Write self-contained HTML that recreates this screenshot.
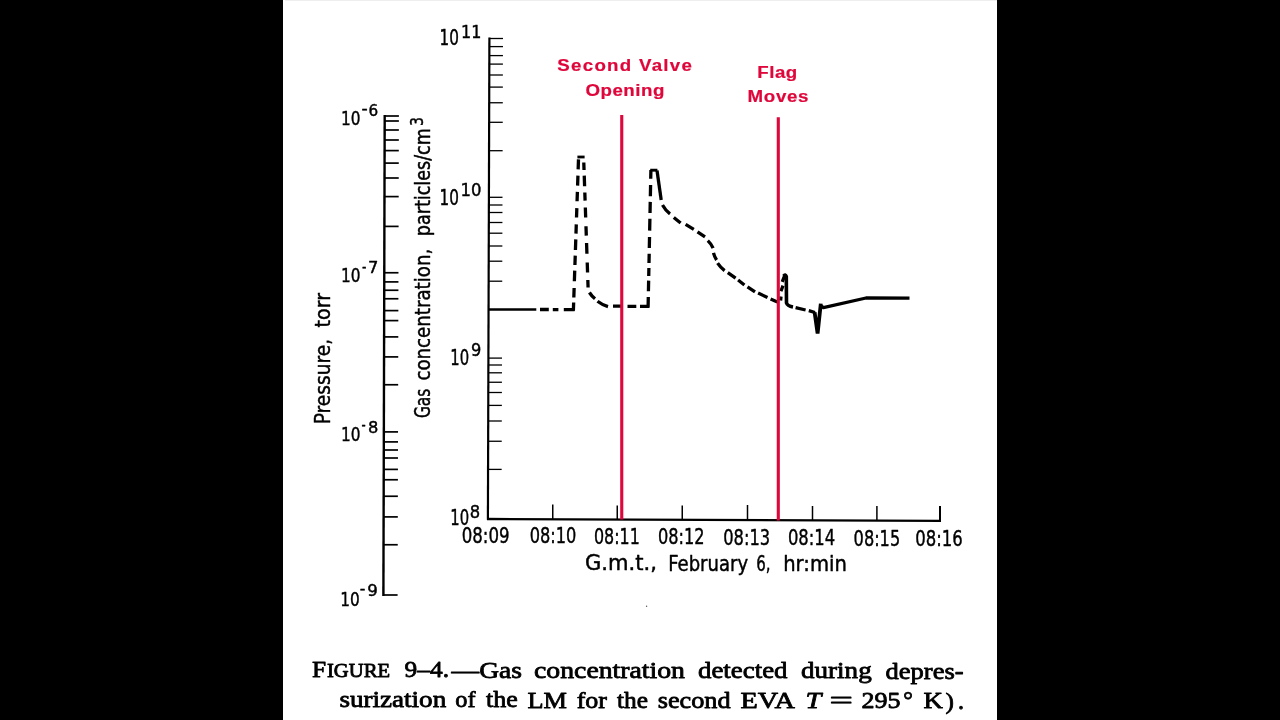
<!DOCTYPE html>
<html lang="en"><head><meta charset="utf-8"><title>Figure 9-4</title>
<style>
html,body{margin:0;padding:0;background:#000;width:1280px;height:720px;overflow:hidden}
#page{position:absolute;left:283px;top:0;width:714px;height:720px;background:#fff}
#strip{position:absolute;left:2px;top:0;right:0;height:1px;background:#efedef}
svg{position:absolute;left:0;top:0;filter:blur(0.35px)}
text{white-space:pre}
</style></head><body>
<div id="page"><div id="strip"></div></div>
<svg width="1280" height="720" viewBox="0 0 1280 720">
<line x1="384.70" y1="115.00" x2="383.40" y2="596.00" stroke="#000" stroke-width="2.4" stroke-linecap="butt"/>
<line x1="384.70" y1="116.00" x2="398.90" y2="116.00" stroke="#000" stroke-width="1.7" stroke-linecap="butt"/>
<line x1="384.68" y1="121.00" x2="398.88" y2="121.00" stroke="#000" stroke-width="1.7" stroke-linecap="butt"/>
<line x1="384.66" y1="130.00" x2="398.86" y2="130.00" stroke="#000" stroke-width="1.7" stroke-linecap="butt"/>
<line x1="384.63" y1="140.00" x2="398.83" y2="140.00" stroke="#000" stroke-width="1.7" stroke-linecap="butt"/>
<line x1="384.60" y1="150.60" x2="398.80" y2="150.60" stroke="#000" stroke-width="1.7" stroke-linecap="butt"/>
<line x1="384.57" y1="163.10" x2="398.77" y2="163.10" stroke="#000" stroke-width="1.7" stroke-linecap="butt"/>
<line x1="384.53" y1="178.00" x2="398.73" y2="178.00" stroke="#000" stroke-width="1.7" stroke-linecap="butt"/>
<line x1="384.48" y1="196.60" x2="398.68" y2="196.60" stroke="#000" stroke-width="1.7" stroke-linecap="butt"/>
<line x1="384.40" y1="226.40" x2="398.60" y2="226.40" stroke="#000" stroke-width="1.7" stroke-linecap="butt"/>
<line x1="384.27" y1="272.75" x2="398.47" y2="272.75" stroke="#000" stroke-width="1.7" stroke-linecap="butt"/>
<line x1="384.25" y1="281.90" x2="398.45" y2="281.90" stroke="#000" stroke-width="1.7" stroke-linecap="butt"/>
<line x1="384.23" y1="290.25" x2="398.43" y2="290.25" stroke="#000" stroke-width="1.7" stroke-linecap="butt"/>
<line x1="384.20" y1="298.75" x2="398.40" y2="298.75" stroke="#000" stroke-width="1.7" stroke-linecap="butt"/>
<line x1="384.17" y1="310.60" x2="398.37" y2="310.60" stroke="#000" stroke-width="1.7" stroke-linecap="butt"/>
<line x1="384.14" y1="320.60" x2="398.34" y2="320.60" stroke="#000" stroke-width="1.7" stroke-linecap="butt"/>
<line x1="384.10" y1="336.90" x2="398.30" y2="336.90" stroke="#000" stroke-width="1.7" stroke-linecap="butt"/>
<line x1="384.05" y1="356.90" x2="398.25" y2="356.90" stroke="#000" stroke-width="1.7" stroke-linecap="butt"/>
<line x1="383.97" y1="384.75" x2="398.17" y2="384.75" stroke="#000" stroke-width="1.7" stroke-linecap="butt"/>
<line x1="383.84" y1="431.90" x2="398.04" y2="431.90" stroke="#000" stroke-width="1.7" stroke-linecap="butt"/>
<line x1="383.82" y1="441.90" x2="398.02" y2="441.90" stroke="#000" stroke-width="1.7" stroke-linecap="butt"/>
<line x1="383.79" y1="450.00" x2="397.99" y2="450.00" stroke="#000" stroke-width="1.7" stroke-linecap="butt"/>
<line x1="383.77" y1="458.00" x2="397.97" y2="458.00" stroke="#000" stroke-width="1.7" stroke-linecap="butt"/>
<line x1="383.74" y1="469.40" x2="397.94" y2="469.40" stroke="#000" stroke-width="1.7" stroke-linecap="butt"/>
<line x1="383.71" y1="479.75" x2="397.91" y2="479.75" stroke="#000" stroke-width="1.7" stroke-linecap="butt"/>
<line x1="383.67" y1="496.25" x2="397.87" y2="496.25" stroke="#000" stroke-width="1.7" stroke-linecap="butt"/>
<line x1="383.61" y1="516.90" x2="397.81" y2="516.90" stroke="#000" stroke-width="1.7" stroke-linecap="butt"/>
<line x1="383.54" y1="544.75" x2="397.74" y2="544.75" stroke="#000" stroke-width="1.7" stroke-linecap="butt"/>
<line x1="383.40" y1="595.00" x2="397.60" y2="595.00" stroke="#000" stroke-width="1.7" stroke-linecap="butt"/>
<line x1="489.40" y1="37.50" x2="487.90" y2="519.80" stroke="#000" stroke-width="2.2" stroke-linecap="butt"/>
<line x1="489.40" y1="38.50" x2="503.00" y2="38.50" stroke="#000" stroke-width="1.3" stroke-linecap="butt"/>
<line x1="489.37" y1="46.60" x2="502.97" y2="46.60" stroke="#000" stroke-width="1.3" stroke-linecap="butt"/>
<line x1="489.34" y1="55.60" x2="502.94" y2="55.60" stroke="#000" stroke-width="1.3" stroke-linecap="butt"/>
<line x1="489.32" y1="64.10" x2="502.92" y2="64.10" stroke="#000" stroke-width="1.3" stroke-linecap="butt"/>
<line x1="489.28" y1="75.00" x2="502.88" y2="75.00" stroke="#000" stroke-width="1.3" stroke-linecap="butt"/>
<line x1="489.25" y1="87.10" x2="502.85" y2="87.10" stroke="#000" stroke-width="1.3" stroke-linecap="butt"/>
<line x1="489.20" y1="102.75" x2="502.80" y2="102.75" stroke="#000" stroke-width="1.3" stroke-linecap="butt"/>
<line x1="489.14" y1="122.30" x2="502.74" y2="122.30" stroke="#000" stroke-width="1.3" stroke-linecap="butt"/>
<line x1="489.05" y1="150.70" x2="502.65" y2="150.70" stroke="#000" stroke-width="1.3" stroke-linecap="butt"/>
<line x1="488.90" y1="197.30" x2="502.50" y2="197.30" stroke="#000" stroke-width="1.3" stroke-linecap="butt"/>
<line x1="488.88" y1="205.00" x2="502.48" y2="205.00" stroke="#000" stroke-width="1.3" stroke-linecap="butt"/>
<line x1="488.86" y1="212.50" x2="502.46" y2="212.50" stroke="#000" stroke-width="1.3" stroke-linecap="butt"/>
<line x1="488.82" y1="222.50" x2="502.42" y2="222.50" stroke="#000" stroke-width="1.3" stroke-linecap="butt"/>
<line x1="488.79" y1="233.20" x2="502.39" y2="233.20" stroke="#000" stroke-width="1.3" stroke-linecap="butt"/>
<line x1="488.75" y1="246.00" x2="502.35" y2="246.00" stroke="#000" stroke-width="1.3" stroke-linecap="butt"/>
<line x1="488.70" y1="261.20" x2="502.30" y2="261.20" stroke="#000" stroke-width="1.3" stroke-linecap="butt"/>
<line x1="488.64" y1="281.20" x2="502.24" y2="281.20" stroke="#000" stroke-width="1.3" stroke-linecap="butt"/>
<line x1="488.40" y1="358.10" x2="502.00" y2="358.10" stroke="#000" stroke-width="1.3" stroke-linecap="butt"/>
<line x1="488.38" y1="365.00" x2="501.98" y2="365.00" stroke="#000" stroke-width="1.3" stroke-linecap="butt"/>
<line x1="488.36" y1="372.80" x2="501.96" y2="372.80" stroke="#000" stroke-width="1.3" stroke-linecap="butt"/>
<line x1="488.33" y1="382.25" x2="501.93" y2="382.25" stroke="#000" stroke-width="1.3" stroke-linecap="butt"/>
<line x1="488.30" y1="392.50" x2="501.90" y2="392.50" stroke="#000" stroke-width="1.3" stroke-linecap="butt"/>
<line x1="488.26" y1="405.40" x2="501.86" y2="405.40" stroke="#000" stroke-width="1.3" stroke-linecap="butt"/>
<line x1="488.21" y1="421.00" x2="501.81" y2="421.00" stroke="#000" stroke-width="1.3" stroke-linecap="butt"/>
<line x1="488.14" y1="441.25" x2="501.74" y2="441.25" stroke="#000" stroke-width="1.3" stroke-linecap="butt"/>
<line x1="488.06" y1="469.40" x2="501.66" y2="469.40" stroke="#000" stroke-width="1.3" stroke-linecap="butt"/>
<line x1="487.00" y1="519.00" x2="941.00" y2="520.90" stroke="#000" stroke-width="2.4" stroke-linecap="butt"/>
<line x1="552.75" y1="504.40" x2="552.75" y2="520.00" stroke="#000" stroke-width="1.5" stroke-linecap="butt"/>
<line x1="617.25" y1="505.60" x2="617.25" y2="520.00" stroke="#000" stroke-width="1.5" stroke-linecap="butt"/>
<line x1="682.25" y1="505.60" x2="682.25" y2="520.00" stroke="#000" stroke-width="1.5" stroke-linecap="butt"/>
<line x1="747.50" y1="505.00" x2="747.50" y2="520.00" stroke="#000" stroke-width="1.5" stroke-linecap="butt"/>
<line x1="812.50" y1="506.00" x2="812.50" y2="520.00" stroke="#000" stroke-width="1.5" stroke-linecap="butt"/>
<line x1="876.90" y1="506.00" x2="876.90" y2="520.00" stroke="#000" stroke-width="1.5" stroke-linecap="butt"/>
<line x1="940.00" y1="506.00" x2="940.00" y2="521.60" stroke="#000" stroke-width="2.0" stroke-linecap="butt"/>
<text x="340.90" y="124.60" font-family='"DejaVu Sans", "Liberation Sans", sans-serif' font-size="19.8" font-weight="normal" fill="#000" stroke="#000" stroke-width="0.45" stroke-linejoin="round" text-anchor="start" textLength="19.50" lengthAdjust="spacingAndGlyphs"  style="">10</text>
<text x="361.50" y="113.50" font-family='"DejaVu Sans", "Liberation Sans", sans-serif' font-size="16.6" font-weight="normal" fill="#000" stroke="#000" stroke-width="0.45" stroke-linejoin="round" text-anchor="start" textLength="6.20" lengthAdjust="spacingAndGlyphs"  style="">-</text>
<text x="368.60" y="115.80" font-family='"DejaVu Sans", "Liberation Sans", sans-serif' font-size="16.6" font-weight="normal" fill="#000" stroke="#000" stroke-width="0.45" stroke-linejoin="round" text-anchor="start" textLength="9.70" lengthAdjust="spacingAndGlyphs"  style="">6</text>
<text x="340.90" y="282.30" font-family='"DejaVu Sans", "Liberation Sans", sans-serif' font-size="19.8" font-weight="normal" fill="#000" stroke="#000" stroke-width="0.45" stroke-linejoin="round" text-anchor="start" textLength="19.50" lengthAdjust="spacingAndGlyphs"  style="">10</text>
<text x="361.90" y="271.80" font-family='"DejaVu Sans", "Liberation Sans", sans-serif' font-size="16.6" font-weight="normal" fill="#000" stroke="#000" stroke-width="0.45" stroke-linejoin="round" text-anchor="start" textLength="4.40" lengthAdjust="spacingAndGlyphs"  style="">-</text>
<text x="367.95" y="272.60" font-family='"DejaVu Sans", "Liberation Sans", sans-serif' font-size="16.6" font-weight="normal" fill="#000" stroke="#000" stroke-width="0.45" stroke-linejoin="round" text-anchor="start" textLength="10.35" lengthAdjust="spacingAndGlyphs"  style="">7</text>
<text x="340.90" y="441.30" font-family='"DejaVu Sans", "Liberation Sans", sans-serif' font-size="19.8" font-weight="normal" fill="#000" stroke="#000" stroke-width="0.45" stroke-linejoin="round" text-anchor="start" textLength="19.50" lengthAdjust="spacingAndGlyphs"  style="">10</text>
<text x="361.60" y="430.30" font-family='"DejaVu Sans", "Liberation Sans", sans-serif' font-size="16.6" font-weight="normal" fill="#000" stroke="#000" stroke-width="0.45" stroke-linejoin="round" text-anchor="start" textLength="4.20" lengthAdjust="spacingAndGlyphs"  style="">-</text>
<text x="367.95" y="433.00" font-family='"DejaVu Sans", "Liberation Sans", sans-serif' font-size="16.6" font-weight="normal" fill="#000" stroke="#000" stroke-width="0.45" stroke-linejoin="round" text-anchor="start" textLength="10.35" lengthAdjust="spacingAndGlyphs"  style="">8</text>
<text x="340.25" y="606.00" font-family='"DejaVu Sans", "Liberation Sans", sans-serif' font-size="19.8" font-weight="normal" fill="#000" stroke="#000" stroke-width="0.45" stroke-linejoin="round" text-anchor="start" textLength="19.50" lengthAdjust="spacingAndGlyphs"  style="">10</text>
<text x="359.80" y="593.70" font-family='"DejaVu Sans", "Liberation Sans", sans-serif' font-size="16.6" font-weight="normal" fill="#000" stroke="#000" stroke-width="0.45" stroke-linejoin="round" text-anchor="start" textLength="5.60" lengthAdjust="spacingAndGlyphs"  style="">-</text>
<text x="367.20" y="596.00" font-family='"DejaVu Sans", "Liberation Sans", sans-serif' font-size="16.6" font-weight="normal" fill="#000" stroke="#000" stroke-width="0.45" stroke-linejoin="round" text-anchor="start" textLength="10.60" lengthAdjust="spacingAndGlyphs"  style="">9</text>
<text x="439.60" y="45.10" font-family='"DejaVu Sans", "Liberation Sans", sans-serif' font-size="21.5" font-weight="normal" fill="#000" stroke="#000" stroke-width="0.45" stroke-linejoin="round" text-anchor="start" textLength="19.40" lengthAdjust="spacingAndGlyphs"  style="">10</text>
<text x="461.10" y="38.15" font-family='"DejaVu Sans", "Liberation Sans", sans-serif' font-size="17.5" font-weight="normal" fill="#000" stroke="#000" stroke-width="0.45" stroke-linejoin="round" text-anchor="start" textLength="20.30" lengthAdjust="spacingAndGlyphs"  style="">11</text>
<text x="439.60" y="205.10" font-family='"DejaVu Sans", "Liberation Sans", sans-serif' font-size="21.5" font-weight="normal" fill="#000" stroke="#000" stroke-width="0.45" stroke-linejoin="round" text-anchor="start" textLength="19.40" lengthAdjust="spacingAndGlyphs"  style="">10</text>
<text x="460.45" y="196.30" font-family='"DejaVu Sans", "Liberation Sans", sans-serif' font-size="17.5" font-weight="normal" fill="#000" stroke="#000" stroke-width="0.45" stroke-linejoin="round" text-anchor="start" textLength="20.95" lengthAdjust="spacingAndGlyphs"  style="">10</text>
<text x="450.25" y="365.10" font-family='"DejaVu Sans", "Liberation Sans", sans-serif' font-size="21.5" font-weight="normal" fill="#000" stroke="#000" stroke-width="0.45" stroke-linejoin="round" text-anchor="start" textLength="18.85" lengthAdjust="spacingAndGlyphs"  style="">10</text>
<text x="471.10" y="356.40" font-family='"DejaVu Sans", "Liberation Sans", sans-serif' font-size="17.5" font-weight="normal" fill="#000" stroke="#000" stroke-width="0.45" stroke-linejoin="round" text-anchor="start" textLength="10.30" lengthAdjust="spacingAndGlyphs"  style="">9</text>
<text x="450.25" y="525.10" font-family='"DejaVu Sans", "Liberation Sans", sans-serif' font-size="21.5" font-weight="normal" fill="#000" stroke="#000" stroke-width="0.45" stroke-linejoin="round" text-anchor="start" textLength="18.85" lengthAdjust="spacingAndGlyphs"  style="">10</text>
<text x="469.80" y="517.50" font-family='"DejaVu Sans", "Liberation Sans", sans-serif' font-size="17.5" font-weight="normal" fill="#000" stroke="#000" stroke-width="0.45" stroke-linejoin="round" text-anchor="start" textLength="10.40" lengthAdjust="spacingAndGlyphs"  style="">8</text>
<text x="461.70" y="543.30" font-family='"DejaVu Sans", "Liberation Sans", sans-serif' font-size="22.0" font-weight="normal" fill="#000" stroke="#000" stroke-width="0.45" stroke-linejoin="round" text-anchor="start" textLength="47.85" lengthAdjust="spacingAndGlyphs"  style="">08:09</text>
<text x="529.80" y="543.30" font-family='"DejaVu Sans", "Liberation Sans", sans-serif' font-size="22.0" font-weight="normal" fill="#000" stroke="#000" stroke-width="0.45" stroke-linejoin="round" text-anchor="start" textLength="46.60" lengthAdjust="spacingAndGlyphs"  style="">08:10</text>
<text x="593.95" y="543.50" font-family='"DejaVu Sans", "Liberation Sans", sans-serif' font-size="22.0" font-weight="normal" fill="#000" stroke="#000" stroke-width="0.45" stroke-linejoin="round" text-anchor="start" textLength="45.85" lengthAdjust="spacingAndGlyphs"  style="">08:11</text>
<text x="657.95" y="543.90" font-family='"DejaVu Sans", "Liberation Sans", sans-serif' font-size="22.0" font-weight="normal" fill="#000" stroke="#000" stroke-width="0.45" stroke-linejoin="round" text-anchor="start" textLength="46.60" lengthAdjust="spacingAndGlyphs"  style="">08:12</text>
<text x="723.20" y="544.50" font-family='"DejaVu Sans", "Liberation Sans", sans-serif' font-size="22.0" font-weight="normal" fill="#000" stroke="#000" stroke-width="0.45" stroke-linejoin="round" text-anchor="start" textLength="47.00" lengthAdjust="spacingAndGlyphs"  style="">08:13</text>
<text x="787.95" y="544.90" font-family='"DejaVu Sans", "Liberation Sans", sans-serif' font-size="22.0" font-weight="normal" fill="#000" stroke="#000" stroke-width="0.45" stroke-linejoin="round" text-anchor="start" textLength="47.25" lengthAdjust="spacingAndGlyphs"  style="">08:14</text>
<text x="853.60" y="545.50" font-family='"DejaVu Sans", "Liberation Sans", sans-serif' font-size="22.0" font-weight="normal" fill="#000" stroke="#000" stroke-width="0.45" stroke-linejoin="round" text-anchor="start" textLength="46.60" lengthAdjust="spacingAndGlyphs"  style="">08:15</text>
<text x="915.20" y="545.70" font-family='"DejaVu Sans", "Liberation Sans", sans-serif' font-size="22.0" font-weight="normal" fill="#000" stroke="#000" stroke-width="0.45" stroke-linejoin="round" text-anchor="start" textLength="47.50" lengthAdjust="spacingAndGlyphs"  style="">08:16</text>
<text x="585.00" y="570.30" font-family='"DejaVu Sans", "Liberation Sans", sans-serif' font-size="20.5" font-weight="normal" fill="#000" stroke="#000" stroke-width="0.45" stroke-linejoin="round" text-anchor="start" textLength="71.85" lengthAdjust="spacingAndGlyphs"  style="">G.m.t.,</text>
<text x="668.15" y="570.60" font-family='"DejaVu Sans", "Liberation Sans", sans-serif' font-size="20.5" font-weight="normal" fill="#000" stroke="#000" stroke-width="0.45" stroke-linejoin="round" text-anchor="start" textLength="79.95" lengthAdjust="spacingAndGlyphs"  style="">February</text>
<text x="756.30" y="570.90" font-family='"DejaVu Sans", "Liberation Sans", sans-serif' font-size="20.5" font-weight="normal" fill="#000" stroke="#000" stroke-width="0.45" stroke-linejoin="round" text-anchor="start" textLength="14.30" lengthAdjust="spacingAndGlyphs"  style="">6,</text>
<text x="783.15" y="571.20" font-family='"DejaVu Sans", "Liberation Sans", sans-serif' font-size="20.5" font-weight="normal" fill="#000" stroke="#000" stroke-width="0.45" stroke-linejoin="round" text-anchor="start" textLength="63.70" lengthAdjust="spacingAndGlyphs"  style="">hr:min</text>
<text x="0" y="0" transform="translate(330.20 424.35) rotate(-90)" font-family='"DejaVu Sans", "Liberation Sans", sans-serif' font-size="20.5" font-weight="normal" fill="#000" stroke="#000" stroke-width="0.45" stroke-linejoin="round" text-anchor="start" textLength="85.55" lengthAdjust="spacingAndGlyphs"  style="">Pressure,</text>
<text x="0" y="0" transform="translate(330.20 327.50) rotate(-90)" font-family='"DejaVu Sans", "Liberation Sans", sans-serif' font-size="20.5" font-weight="normal" fill="#000" stroke="#000" stroke-width="0.45" stroke-linejoin="round" text-anchor="start" textLength="34.60" lengthAdjust="spacingAndGlyphs"  style="">torr</text>
<text x="0" y="0" transform="translate(429.60 418.10) rotate(-90)" font-family='"DejaVu Sans", "Liberation Sans", sans-serif' font-size="20.5" font-weight="normal" fill="#000" stroke="#000" stroke-width="0.45" stroke-linejoin="round" text-anchor="start" textLength="29.30" lengthAdjust="spacingAndGlyphs"  style="">Gas</text>
<text x="0" y="0" transform="translate(429.60 380.60) rotate(-90)" font-family='"DejaVu Sans", "Liberation Sans", sans-serif' font-size="20.5" font-weight="normal" fill="#000" stroke="#000" stroke-width="0.45" stroke-linejoin="round" text-anchor="start" textLength="131.80" lengthAdjust="spacingAndGlyphs"  style="">concentration,</text>
<text x="0" y="0" transform="translate(429.60 236.20) rotate(-90)" font-family='"DejaVu Sans", "Liberation Sans", sans-serif' font-size="20.5" font-weight="normal" fill="#000" stroke="#000" stroke-width="0.45" stroke-linejoin="round" text-anchor="start" textLength="108.05" lengthAdjust="spacingAndGlyphs"  style="">particles/cm</text>
<text x="0" y="0" transform="translate(423.40 126.00) rotate(-90)" font-family='"DejaVu Sans", "Liberation Sans", sans-serif' font-size="17" font-weight="normal" fill="#000" stroke="#000" stroke-width="0.45" stroke-linejoin="round" text-anchor="start" textLength="9.00" lengthAdjust="spacingAndGlyphs"  style="">3</text>
<text x="0" y="0" transform="translate(557.30 71.30) scale(1.1 1)" font-family='"Liberation Sans", sans-serif' font-size="17.0" font-weight="bold" fill="#de063a" stroke="#de063a" stroke-width="0.2" stroke-linejoin="round" text-anchor="start" textLength="122.36" lengthAdjust="spacing"  style="">Second Valve</text>
<text x="0" y="0" transform="translate(585.40 95.60) scale(1.1 1)" font-family='"Liberation Sans", sans-serif' font-size="17.0" font-weight="bold" fill="#de063a" stroke="#de063a" stroke-width="0.2" stroke-linejoin="round" text-anchor="start" textLength="71.82" lengthAdjust="spacing"  style="">Opening</text>
<text x="0" y="0" transform="translate(757.30 77.80) scale(1.1 1)" font-family='"Liberation Sans", sans-serif' font-size="17.0" font-weight="bold" fill="#de063a" stroke="#de063a" stroke-width="0.2" stroke-linejoin="round" text-anchor="start" textLength="36.32" lengthAdjust="spacing"  style="">Flag</text>
<text x="0" y="0" transform="translate(747.55 102.10) scale(1.1 1)" font-family='"Liberation Sans", sans-serif' font-size="17.0" font-weight="bold" fill="#de063a" stroke="#de063a" stroke-width="0.2" stroke-linejoin="round" text-anchor="start" textLength="55.41" lengthAdjust="spacing"  style="">Moves</text>
<path d="M489 309.5 L536.3 309.5" fill="none" stroke="#000" stroke-width="2.7" stroke-linecap="butt" stroke-linejoin="round"/>
<path d="M540 309.5 L548.8 309.5 M552.8 309.6 L558.4 309.6 M563.8 309.6 L574.6 309.6" fill="none" stroke="#000" stroke-width="3.3" stroke-linecap="butt" stroke-linejoin="round"/>
<path d="M578.49 159.40 L578.15 169.40 M577.94 175.60 L577.60 185.60 M577.39 191.90 L577.07 201.30 M576.84 208.10 L576.52 217.50 M576.29 224.40 L575.98 233.60 M575.78 239.40 L575.43 250.00 M575.24 255.60 L574.92 265.00 M574.73 270.60 L574.37 281.30 M574.14 288.00 L573.82 297.50 M573.65 302.50 L573.37 310.80" fill="none" stroke="#000" stroke-width="3.3" stroke-linecap="butt" stroke-linejoin="round"/>
<path d="M577.4 157 L584.6 157" fill="none" stroke="#000" stroke-width="2.8" stroke-linecap="butt" stroke-linejoin="round"/>
<path d="M583.79 162.50 L584.04 170.00 M584.24 175.60 L584.60 186.30 M584.82 192.50 L585.10 200.60 M585.33 207.50 L585.68 217.50 M585.98 226.30 L586.30 235.60 M586.56 243.00 L586.93 253.80 M587.23 262.50 L587.57 272.50 M587.83 280.00 L588.09 287.50" fill="none" stroke="#000" stroke-width="3.3" stroke-linecap="butt" stroke-linejoin="round"/>
<path d="M589.4 292.5 Q591.8 296.2 595 298.8 M597.5 301.2 Q602.5 305 608 306.6 M613 306.2 L623 306.2 M627.5 306.3 L636.3 306.3 M640 306.3 L649 306.3" fill="none" stroke="#000" stroke-width="3.3" stroke-linecap="butt" stroke-linejoin="round"/>
<path d="M650.90 170.00 L650.72 178.80 M650.59 185.00 L650.36 196.30 M650.25 201.90 L650.02 213.00 M649.90 218.80 L649.66 230.60 M649.53 237.00 L649.31 248.00 M649.19 253.80 L649.00 263.00 M648.90 268.00 L648.73 276.00 M648.64 280.60 L648.42 291.30 M648.30 297.00 L648.08 307.80" fill="none" stroke="#000" stroke-width="3.3" stroke-linecap="butt" stroke-linejoin="round"/>
<path d="M650.2 170.2 L657.4 170.2" fill="none" stroke="#000" stroke-width="2.9" stroke-linecap="butt" stroke-linejoin="round"/>
<path d="M657 170.5 L661.2 200" fill="none" stroke="#000" stroke-width="3.3" stroke-linecap="butt" stroke-linejoin="round"/>
<path d="M662.5 205 Q665.5 210.5 670 213.8 M673.8 217.5 L680.6 223.1 M685.6 224.4 L693.8 229.4 M697.5 231.9 L705 236.9 M707.8 240.6 Q711.4 244 713.1 248.1 M713.5 252.8 Q714.6 257 716.6 260 M717.6 263.2 Q720.5 267.6 724.6 270.6 M727.8 272.6 L735.6 278.1 M738.1 280 L744.4 285 M747.5 286.9 L755 291.9 M758.1 293.1 L767.5 297.5 M770.6 299 L777.4 302" fill="none" stroke="#000" stroke-width="3.3" stroke-linecap="butt" stroke-linejoin="round"/>
<path d="M780.6 300.5 L781 296.5 M780.9 291.3 L783 285.6 M782.2 281.9 L784.8 275.4" fill="none" stroke="#000" stroke-width="3.3" stroke-linecap="butt" stroke-linejoin="round"/>
<path d="M783.6 276 Q785.4 273.6 786.3 276.6 L786.5 303 Q787.5 306 793 307" fill="none" stroke="#000" stroke-width="3.5999999999999996" stroke-linecap="butt" stroke-linejoin="round"/>
<path d="M795.6 307.6 L805.6 310 M808.8 310.7 L815 312.5" fill="none" stroke="#000" stroke-width="3.3" stroke-linecap="butt" stroke-linejoin="round"/>
<path d="M814.6 312.3 L817.6 333.5 L820.8 303.6" fill="none" stroke="#000" stroke-width="3.8" stroke-linecap="butt" stroke-linejoin="miter"/>
<path d="M821.2 306 L823.4 307.6 L866 298 L909.5 298.1" fill="none" stroke="#000" stroke-width="3.3" stroke-linecap="butt" stroke-linejoin="round"/>
<line x1="621.75" y1="115.00" x2="621.75" y2="519.60" stroke="#de063a" stroke-width="3.1" stroke-linecap="butt"/>
<line x1="778.30" y1="117.20" x2="778.30" y2="520.60" stroke="#de063a" stroke-width="3.1" stroke-linecap="butt"/>
<circle cx="646.6" cy="606.3" r="0.7" fill="#555"/>
<text x="311.90" y="677.20" font-family='"Liberation Serif", serif' font-size="24.0" font-weight="normal" fill="#000" stroke="#000" stroke-width="0.8" stroke-linejoin="round" text-anchor="start" textLength="14.10" lengthAdjust="spacingAndGlyphs"  style="">F</text>
<text x="327.00" y="677.29" font-family='"Liberation Serif", serif' font-size="19.2" font-weight="normal" fill="#000" stroke="#000" stroke-width="0.8" stroke-linejoin="round" text-anchor="start" textLength="63.00" lengthAdjust="spacingAndGlyphs"  style="">IGURE</text>
<text x="404.60" y="677.46" font-family='"Liberation Serif", serif' font-size="24.0" font-weight="normal" fill="#000" stroke="#000" stroke-width="0.8" stroke-linejoin="round" text-anchor="start" textLength="44.40" lengthAdjust="spacingAndGlyphs"  style="">9–4.</text>
<text x="451.60" y="677.60" font-family='"Liberation Serif", serif' font-size="24.0" font-weight="normal" fill="#000" stroke="#000" stroke-width="0.8" stroke-linejoin="round" text-anchor="start" textLength="70.40" lengthAdjust="spacingAndGlyphs"  style="">—Gas</text>
<text x="534.00" y="677.89" font-family='"Liberation Serif", serif' font-size="24.0" font-weight="normal" fill="#000" stroke="#000" stroke-width="0.8" stroke-linejoin="round" text-anchor="start" textLength="151.00" lengthAdjust="spacingAndGlyphs"  style="">concentration</text>
<text x="698.00" y="678.21" font-family='"Liberation Serif", serif' font-size="24.0" font-weight="normal" fill="#000" stroke="#000" stroke-width="0.8" stroke-linejoin="round" text-anchor="start" textLength="89.50" lengthAdjust="spacingAndGlyphs"  style="">detected</text>
<text x="801.00" y="678.44" font-family='"Liberation Serif", serif' font-size="24.0" font-weight="normal" fill="#000" stroke="#000" stroke-width="0.8" stroke-linejoin="round" text-anchor="start" textLength="70.70" lengthAdjust="spacingAndGlyphs"  style="">during</text>
<text x="885.50" y="678.65" font-family='"Liberation Serif", serif' font-size="24.0" font-weight="normal" fill="#000" stroke="#000" stroke-width="0.8" stroke-linejoin="round" text-anchor="start" textLength="78.10" lengthAdjust="spacingAndGlyphs"  style="">depres-</text>
<text x="339.40" y="707.17" font-family='"Liberation Serif", serif' font-size="24.0" font-weight="normal" fill="#000" stroke="#000" stroke-width="0.8" stroke-linejoin="round" text-anchor="start" textLength="106.80" lengthAdjust="spacingAndGlyphs"  style="">surization</text>
<text x="455.30" y="707.35" font-family='"Liberation Serif", serif' font-size="24.0" font-weight="normal" fill="#000" stroke="#000" stroke-width="0.8" stroke-linejoin="round" text-anchor="start" textLength="20.20" lengthAdjust="spacingAndGlyphs"  style="">of</text>
<text x="486.00" y="707.44" font-family='"Liberation Serif", serif' font-size="24.0" font-weight="normal" fill="#000" stroke="#000" stroke-width="0.8" stroke-linejoin="round" text-anchor="start" textLength="31.70" lengthAdjust="spacingAndGlyphs"  style="">the</text>
<text x="527.50" y="707.55" font-family='"Liberation Serif", serif' font-size="24.0" font-weight="normal" fill="#000" stroke="#000" stroke-width="0.8" stroke-linejoin="round" text-anchor="start" textLength="39.50" lengthAdjust="spacingAndGlyphs"  style="">LM</text>
<text x="576.70" y="707.65" font-family='"Liberation Serif", serif' font-size="24.0" font-weight="normal" fill="#000" stroke="#000" stroke-width="0.8" stroke-linejoin="round" text-anchor="start" textLength="30.30" lengthAdjust="spacingAndGlyphs"  style="">for</text>
<text x="617.00" y="707.75" font-family='"Liberation Serif", serif' font-size="24.0" font-weight="normal" fill="#000" stroke="#000" stroke-width="0.8" stroke-linejoin="round" text-anchor="start" textLength="31.00" lengthAdjust="spacingAndGlyphs"  style="">the</text>
<text x="657.70" y="707.90" font-family='"Liberation Serif", serif' font-size="24.0" font-weight="normal" fill="#000" stroke="#000" stroke-width="0.8" stroke-linejoin="round" text-anchor="start" textLength="72.90" lengthAdjust="spacingAndGlyphs"  style="">second</text>
<text x="740.50" y="708.07" font-family='"Liberation Serif", serif' font-size="24.0" font-weight="normal" fill="#000" stroke="#000" stroke-width="0.8" stroke-linejoin="round" text-anchor="start" textLength="54.50" lengthAdjust="spacingAndGlyphs"  style="">EVA</text>
<text x="805.60" y="708.18" font-family='"Liberation Serif", serif' font-size="24.0" font-weight="normal" fill="#000" stroke="#000" stroke-width="0.8" stroke-linejoin="round" text-anchor="start" textLength="15.80" lengthAdjust="spacingAndGlyphs"  style="font-style:italic">T</text>
<text x="829.60" y="708.25" font-family='"Liberation Serif", serif' font-size="24.0" font-weight="normal" fill="#000" stroke="#000" stroke-width="0.8" stroke-linejoin="round" text-anchor="start" textLength="23.40" lengthAdjust="spacingAndGlyphs"  style="">=</text>
<text x="861.60" y="708.35" font-family='"Liberation Serif", serif' font-size="24.0" font-weight="normal" fill="#000" stroke="#000" stroke-width="0.8" stroke-linejoin="round" text-anchor="start" textLength="39.00" lengthAdjust="spacingAndGlyphs"  style="">295</text>
<text x="903.20" y="708.41" font-family='"Liberation Serif", serif' font-size="24.0" font-weight="normal" fill="#000" stroke="#000" stroke-width="0.8" stroke-linejoin="round" text-anchor="start" textLength="9.60" lengthAdjust="spacingAndGlyphs"  style="">°</text>
<text x="923.60" y="708.47" font-family='"Liberation Serif", serif' font-size="24.0" font-weight="normal" fill="#000" stroke="#000" stroke-width="0.8" stroke-linejoin="round" text-anchor="start" textLength="19.40" lengthAdjust="spacingAndGlyphs"  style="">K</text>
<text x="945.40" y="708.51" font-family='"Liberation Serif", serif' font-size="24.0" font-weight="normal" fill="#000" stroke="#000" stroke-width="0.8" stroke-linejoin="round" text-anchor="start" textLength="8.40" lengthAdjust="spacingAndGlyphs"  style="">)</text>
<text x="958.00" y="708.54" font-family='"Liberation Serif", serif' font-size="24.0" font-weight="normal" fill="#000" stroke="#000" stroke-width="0.8" stroke-linejoin="round" text-anchor="start" textLength="6.00" lengthAdjust="spacingAndGlyphs"  style="">.</text>
</svg>
</body></html>
